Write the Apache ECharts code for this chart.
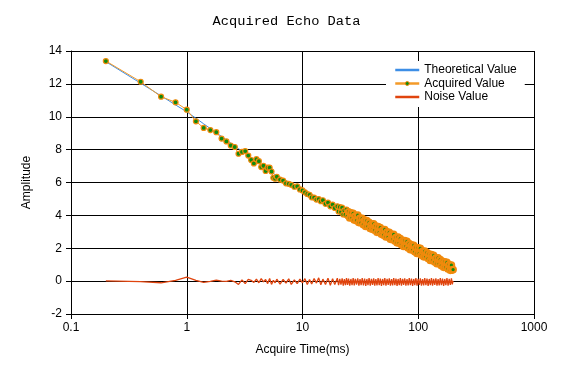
<!DOCTYPE html>
<html>
<head>
<meta charset="utf-8">
<script src="https://cdn.jsdelivr.net/npm/echarts@6/dist/echarts.min.js"></script>
<style>html,body{margin:0;padding:0;background:#fff;}#c{width:573px;height:372px;}</style>
</head>
<body>
<div id="c"></div>
<script>
const timeMs = [0.2,0.4,0.6,0.8,1.0,1.2,1.4,1.6,1.8,2.0,2.2,2.4,2.6,2.8,3.0,3.2,3.4,3.6,3.8,4.0,4.2,4.4,4.6,4.8,5.0,5.2,5.4,5.6,5.8,6.0,
  6.4,6.8,7.2,7.6,8.0,8.5,9,9.5,
  10,10.5,11,11.5,12,12.6,13.2,13.8,14.4,15,
  15.8,16.6,17.4,18.2,19,
  20,20.5,21,21.5,22,22.5,23,23.5,24,24.5,25,25.6,26.2,26.8,27.4,28,28.6,29.3,30,30.7,
  31.4,32.1,32.8,33.6,34.4,35.2,36,36.8,37.6,38.5,39.4,40.3,41.2,42.1,43,44,45,46,47,48.1,49.2,50.3,
  51.4,52.6,53.8,55,56.2,57.5,58.8,60.1,61.4,62.8,64.2,65.6,67,68.5,70,71.6,73.2,74.8,76.4,78.2,80,81.8,
  83.6,85.5,87.4,89.4,91.4,93.4,95.4,97.6,99.8,102,104.2,106.6,109,111.4,113.8,116.4,119,121.7,124.4,127.2,
  130,132.9,135.8,138.9,142,145.2,148.4,151.7,155,158.5,162,165.7,169.4,173.2,177,181,185,189.2,193.4,196.7,200];
const theoretical = [13.35,12.04,11.27,10.72,10.30,9.91,9.57,9.28,9.02,8.80,8.59,8.40,8.22,8.06,7.91,7.77,7.64,7.52,7.40,7.29,7.18,7.08,6.98,6.89,6.80,6.72,6.64,6.56,6.48,6.41,
  6.30,6.20,6.11,6.01,5.93,5.83,5.73,5.64,
  5.56,5.48,5.41,5.33,5.27,5.19,5.11,5.04,4.98,4.91,
  4.82,4.75,4.67,4.60,4.53,
  4.45,4.41,4.37,4.33,4.29,4.26,4.22,4.18,4.15,4.12,4.09,4.05,4.01,3.97,3.94,3.90,3.87,3.83,3.80,3.76,
  3.72,3.69,3.65,3.61,3.57,3.54,3.50,3.47,3.43,3.40,3.36,3.32,3.28,3.25,3.22,3.18,3.14,3.11,3.07,3.03,3.00,2.96,
  2.93,2.89,2.86,2.82,2.79,2.75,2.72,2.68,2.64,2.61,2.57,2.53,2.50,2.46,2.43,2.39,2.36,2.32,2.29,2.25,2.22,2.18,
  2.15,2.11,2.07,2.04,2.00,1.96,1.93,1.89,1.86,1.82,1.79,1.75,1.72,1.68,1.65,1.62,1.58,1.55,1.51,1.47,
  1.44,1.40,1.37,1.33,1.30,1.26,1.23,1.19,1.16,1.12,1.08,1.05,1.01,0.98,0.94,0.91,0.87,0.84,0.80,0.77,0.75];
const acquired = [13.39,12.13,11.22,10.88,10.43,9.72,9.32,9.19,9.06,8.67,8.50,8.25,8.16,7.75,7.86,7.91,7.64,7.37,7.16,7.42,7.30,6.94,7.02,6.70,6.90,6.90,6.67,6.29,6.23,6.35,
  6.18,6.12,5.95,5.92,5.86,5.74,5.77,5.58,
  5.52,5.40,5.30,5.25,5.10,5.08,4.96,4.99,4.86,4.92,
  4.70,4.78,4.55,4.66,4.45,
  4.55,4.24,4.51,4.20,4.47,4.06,4.30,4.04,4.35,3.95,4.22,3.84,4.16,3.86,4.12,3.72,3.97,3.68,4.01,3.56,
  3.83,3.55,3.82,3.43,3.71,3.33,3.68,3.34,3.58,3.20,3.46,3.15,3.48,3.10,3.35,2.97,3.31,2.97,3.25,2.85,3.11,2.79,
  3.14,2.69,3.00,2.69,2.96,2.54,2.85,2.53,2.84,2.44,2.67,2.33,2.68,2.32,2.58,2.21,2.47,2.11,2.46,2.12,2.42,2.01,
  2.29,1.91,2.20,1.89,2.18,1.78,2.04,1.68,2.03,1.68,1.99,1.58,1.82,1.48,1.83,1.49,1.73,1.37,1.65,1.26,
  1.61,1.25,1.57,1.16,1.41,1.06,1.41,1.05,1.31,0.94,1.21,0.84,1.18,0.83,1.14,0.74,1.01,0.66,0.97,0.67,0.70];
const noise = [0.02,-0.03,-0.10,0.05,0.25,0.05,-0.08,-0.02,0.06,0.00,-0.02,0.04,-0.04,-0.20,0.08,-0.15,0.10,0.05,-0.08,0.12,-0.10,0.15,-0.05,0.10,-0.15,0.16,-0.20,0.05,-0.10,0.12,
  -0.18,0.10,-0.12,0.14,-0.20,0.08,-0.15,0.12,
  -0.10,0.15,-0.20,0.10,-0.18,0.16,-0.12,0.20,-0.22,0.12,
  -0.20,0.18,-0.25,0.15,-0.20,
  0.18,-0.24,0.14,-0.22,0.17,-0.27,0.12,-0.25,0.19,-0.23,0.15,-0.28,0.13,-0.24,0.18,-0.26,0.14,-0.22,0.17,-0.28,
  0.12,-0.25,0.19,-0.26,0.15,-0.29,0.13,-0.24,0.18,-0.27,0.14,-0.23,0.17,-0.28,0.12,-0.26,0.19,-0.25,0.15,-0.29,0.13,-0.24,
  0.18,-0.27,0.14,-0.23,0.17,-0.28,0.12,-0.26,0.19,-0.25,0.15,-0.29,0.13,-0.24,0.18,-0.27,0.14,-0.23,0.17,-0.28,0.12,-0.26,
  0.19,-0.25,0.15,-0.29,0.13,-0.24,0.18,-0.27,0.14,-0.23,0.17,-0.28,0.12,-0.26,0.19,-0.25,0.15,-0.29,0.13,-0.24,
  0.18,-0.27,0.14,-0.23,0.17,-0.28,0.12,-0.26,0.19,-0.25,0.15,-0.29,0.13,-0.24,0.18,-0.27,0.14,-0.23,0.17,-0.20,0.02];
const xTicks = [0.1, 1, 10, 100, 1000];
const yMin = -2, yMax = 14, yStep = 2;

const pair = arr => timeMs.map((t, i) => [t, arr[i]]);
const txt = {fontFamily: 'Liberation Sans, Arial, sans-serif', fontSize: 12, color: '#000'};
// dense tail: overlapping markers show mostly their orange rims
const denseMarker = {color: '#0f8a0f', borderColor: '#f08a0c', borderWidth: 2.2};
const acquiredData = timeMs.map((t, i) => t >= 25
  ? {value: [t, acquired[i]], symbolSize: 5.5, itemStyle: denseMarker}
  : {value: [t, acquired[i]]});

const chart = echarts.init(document.getElementById('c'), null, {renderer: 'canvas'});
chart.setOption({
  animation: false,
  backgroundColor: '#fff',
  title: {
    text: 'Acquired Echo Data', left: 'center', top: 9,
    textStyle: {fontFamily: 'Liberation Mono, DejaVu Sans Mono, monospace', fontSize: 13.7, fontWeight: 'normal', color: '#000'}
  },
  legend: {
    orient: 'vertical', left: 386, top: 61, padding: [3, 8, 4, 8],
    backgroundColor: '#fff', itemWidth: 24, itemHeight: 5, itemGap: 1.5,
    lineStyle: {width: 2.5},
    textStyle: txt,
    data: [
      {name: 'Theoretical Value', itemStyle: {opacity: 0}},
      {name: 'Acquired Value', itemStyle: {borderWidth: 1}},
      {name: 'Noise Value', itemStyle: {opacity: 0}}
    ]
  },
  grid: {left: 71, right: 39, top: 51, bottom: 58},
  xAxis: {
    type: 'log', logBase: 10, min: xTicks[0], max: xTicks[xTicks.length - 1],
    name: 'Acquire Time(ms)', nameLocation: 'middle', nameGap: 30, nameTextStyle: txt,
    axisLine: {show: true, onZero: false, lineStyle: {color: '#000', width: 1}},
    axisTick: {show: true, length: 5, inside: false, lineStyle: {color: '#000'}},
    axisLabel: Object.assign({margin: 8, formatter: v => String(v)}, txt),
    splitLine: {show: true, lineStyle: {color: '#000', width: 1}},
    minorTick: {show: false}, minorSplitLine: {show: false}
  },
  yAxis: {
    type: 'value', min: yMin, max: yMax, interval: yStep,
    name: 'Amplitude', nameLocation: 'middle', nameGap: 38, nameTextStyle: txt,
    axisLine: {show: true, onZero: false, lineStyle: {color: '#000', width: 1}},
    axisTick: {show: true, length: 5, inside: false, lineStyle: {color: '#000'}},
    axisLabel: Object.assign({margin: 9}, txt),
    splitLine: {show: true, lineStyle: {color: '#000', width: 1}}
  },
  series: [
    {
      name: 'Theoretical Value', type: 'line', data: pair(theoretical),
      symbol: 'none', color: '#3d8ee6', lineStyle: {color: '#3d8ee6', width: 1}, z: 2
    },
    {
      name: 'Acquired Value', type: 'line', data: acquiredData,
      symbol: 'circle', symbolSize: 5, showSymbol: true,
      color: '#f39a1e',
      lineStyle: {color: '#f39a28', width: 1},
      itemStyle: {color: '#0f8a0f', borderColor: '#f08a0c', borderWidth: 1.2},
      z: 3
    },
    {
      name: 'Noise Value', type: 'line', data: pair(noise),
      symbol: 'none', color: '#e0440e', lineStyle: {color: '#e0440e', width: 1.3}, z: 4
    }
  ]
});
</script>
</body>
</html>
